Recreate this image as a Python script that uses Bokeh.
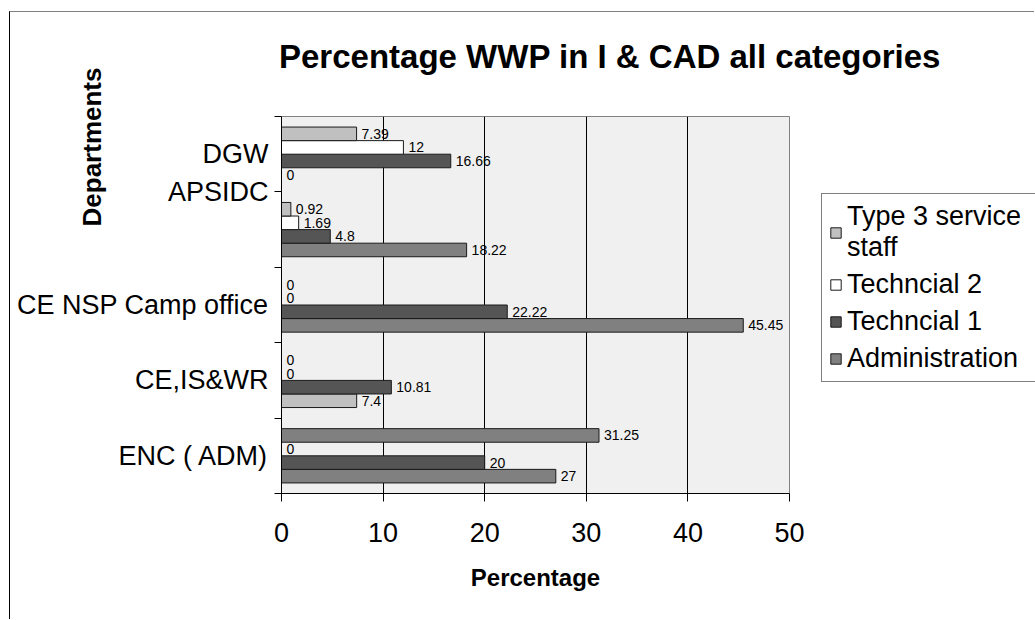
from bokeh.plotting import figure
from bokeh.layouts import column
from bokeh.models import ColumnDataSource, FixedTicker, Legend, LegendItem, Div, Range1d
from bokeh.core.properties import value
from bokeh.transform import dodge
from bokeh.embed import file_html
from bokeh.resources import INLINE

# ---------------- data (departments listed bottom -> top) ----------------
departments = ["ENC ( ADM)", "CE,IS&WR", "CE NSP Camp office", "APSIDC", "DGW"]
series_names = ["Administration", "Techncial 1", "Techncial 2", "Type 3 service staff"]
administration = [27, 7.4, 45.45, 18.22, 0]
technical_1 = [20, 10.81, 22.22, 4.8, 16.66]
technical_2 = [0, 0, 0, 1.69, 12]
type_3_service_staff = [31.25, 0, 0, 0.92, 7.39]
x_ticks = [0, 10, 20, 30, 40, 50]
title_text = "Percentage WWP in I & CAD all categories"
x_title = "Percentage"
y_title = "Departments"

# ---------------- styles ----------------
series_values = [administration, technical_1, technical_2, type_3_service_staff]
series_colors = ["#808080", "#555555", "#ffffff", "#c0c0c0"]
color_overrides = {("ENC ( ADM)", "Type 3 service staff"): "#808080",
                   ("CE,IS&WR", "Administration"): "#c0c0c0"}
dodge_offsets = [-0.27, -0.09, 0.09, 0.27]
bar_height = 0.18
label_shift = {"APSIDC": 0.5}
legend_text = {"Type 3 service staff": "Type 3 service\nstaff"}
FONT = "Liberation Sans"

W, H = 1025, 608
FL, FR, FT, FB = 271, 779, 104, 481

p = figure(width=W, height=H, x_range=(0, 50), y_range=(0, len(departments)),
           output_backend="svg", toolbar_location=None,
           min_border_left=FL, min_border_right=W - FR,
           min_border_top=FT, min_border_bottom=H - FB,
           background_fill_color="#f0f0f0", border_fill_color="white",
           outline_line_color="#808080")

sources = []
for name, vals, col, off in zip(series_names, series_values, series_colors, dodge_offsets):
    ys = [i + 0.5 for i in range(len(departments))]
    colors = [color_overrides.get((d, name), col) for d in departments]
    texts = ["{:g}".format(v) for v in vals]
    src = ColumnDataSource(dict(y=ys, v=vals, color=colors, text=texts))
    sources.append(src)
    p.hbar(y=dodge("y", off), left=0, right="v", height=bar_height, source=src,
           fill_color="color", line_color="#1a1a1a", line_width=1)
    p.text(x="v", y=dodge("y", off), text="text", source=src, x_offset=5,
           text_align="left", text_baseline="middle", text_font=value(FONT),
           text_font_size="14px", text_color="black")

# x axis
p.xaxis.ticker = FixedTicker(ticks=x_ticks)
p.xaxis.axis_label = x_title
p.xaxis.axis_label_text_font = FONT
p.xaxis.axis_label_text_font_style = "bold"
p.xaxis.axis_label_text_font_size = "24px"
p.xaxis.axis_label_text_color = "black"
p.xaxis.axis_label_standoff = 19
p.xaxis.major_label_text_font = FONT
p.xaxis.major_label_text_font_size = "27px"
p.xaxis.major_label_text_color = "black"
p.xaxis.major_label_standoff = 21
p.xaxis.major_tick_out = 8
p.xaxis.major_tick_in = 0
p.xaxis.minor_tick_out = 0
p.xaxis.axis_line_color = "black"
p.xaxis.major_tick_line_color = "black"

# y axis
tick_pos = [i + 0.5 + label_shift.get(d, 0) for i, d in enumerate(departments)]
p.yaxis.ticker = FixedTicker(ticks=tick_pos, minor_ticks=list(range(len(departments) + 1)))
p.yaxis.major_label_overrides = {float(t): d for t, d in zip(tick_pos, departments)}
p.yaxis.major_tick_out = 0
p.yaxis.major_tick_in = 0
p.yaxis.minor_tick_out = 7
p.yaxis.minor_tick_in = 0
p.yaxis.minor_tick_line_color = "black"
p.yaxis.axis_line_color = "black"
p.yaxis.major_label_standoff = 6
p.yaxis.major_label_text_font = FONT
p.yaxis.major_label_text_font_size = "27px"
p.yaxis.major_label_text_color = "black"

# grid
p.xgrid.ticker = FixedTicker(ticks=x_ticks[1:-1])
p.xgrid.grid_line_color = "black"
p.ygrid.grid_line_color = None

p.styles = {"border-top": "1px solid #808080", "border-left": "1px solid #000000"}

# ---------------- legend, drawn in its own small figure laid over the right margin ----------------
LW, LH = 214, 192
lg = figure(width=LW, height=LH, x_range=Range1d(0, 1), y_range=Range1d(-2, -1),
            output_backend="svg", toolbar_location=None, min_border=0,
            x_axis_location=None, y_axis_location=None, outline_line_color=None,
            background_fill_color=None, border_fill_color=None,
            styles={"position": "absolute", "left": "812px", "top": "182px"})
for g in lg.grid:
    g.visible = False
legend_renderers = []
for name, col, off, src in zip(series_names, series_colors, dodge_offsets, sources):
    r = lg.hbar(y=dodge("y", off), left=0, right="v", height=bar_height, source=src,
                fill_color=col, line_color="#1a1a1a", line_width=1)
    legend_renderers.append((name, r))
items = [LegendItem(label=legend_text.get(n, n), renderers=[r])
         for n, r in reversed(legend_renderers)]
legend = Legend(items=items, location="top_left", label_text_font=FONT,
                label_text_font_size="27px", label_text_color="black",
                glyph_width=13, glyph_height=13, label_width=200,
                label_standoff=5, padding=7, spacing=6, margin=0,
                border_line_color="black", border_line_width=1,
                background_fill_color="white", background_fill_alpha=1.0)
lg.add_layout(legend, "center")

# ---------------- titles placed over the margins ----------------
title_div = Div(text=title_text, width=760, height=40,
                styles={"position": "absolute", "left": "265px", "top": "21px",
                        "font-family": FONT, "font-weight": "bold", "font-size": "33px",
                        "line-height": "40px", "color": "black", "white-space": "nowrap"})

dep = Div(text=y_title, width=170, height=30,
          styles={"position": "absolute", "left": "-7px", "top": "116px",
                  "transform": "rotate(-90deg)", "transform-origin": "50% 50%",
                  "font-family": FONT, "font-weight": "bold", "font-size": "26px",
                  "text-align": "center", "line-height": "30px", "color": "black",
                  "white-space": "nowrap"})

layout = column(p, title_div, dep, lg,
                styles={"position": "relative", "margin-top": "11px", "margin-left": "9px"})

open("out.html", "w").write(file_html(layout, INLINE))
